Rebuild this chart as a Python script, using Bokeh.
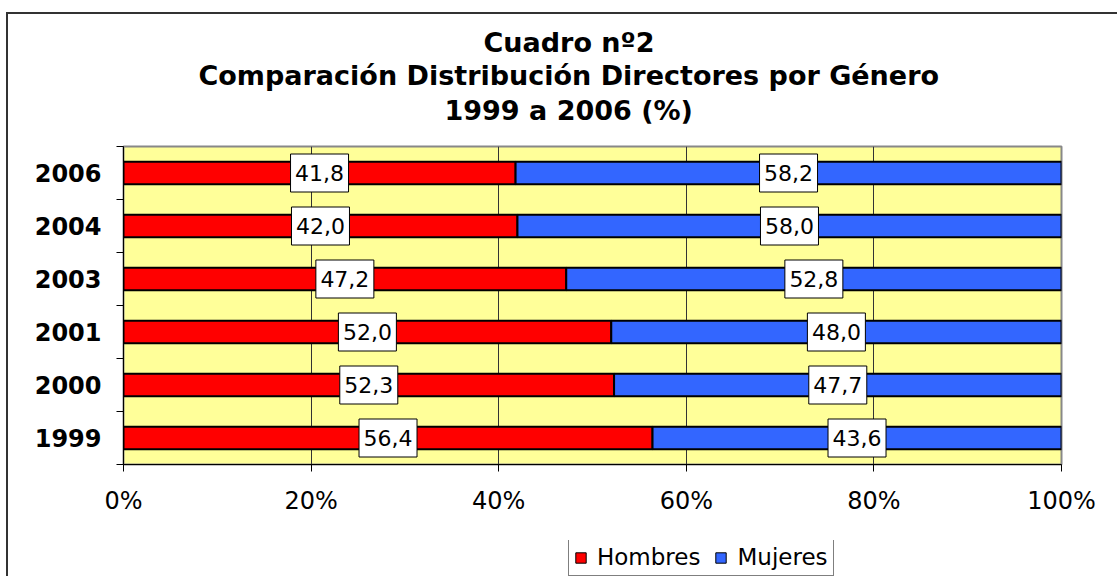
import numpy as np
from bokeh.plotting import figure
from bokeh.layouts import column
from bokeh.models import Range1d, FixedTicker, NumeralTickFormatter, Legend, LegendItem, Title
from bokeh.core.properties import value
from bokeh.embed import file_html
from bokeh.resources import INLINE

years = ["1999", "2000", "2001", "2003", "2004", "2006"]
hombres = [56.4, 52.3, 52.0, 47.2, 42.0, 41.8]
mujeres = [43.6, 47.7, 48.0, 52.8, 58.0, 58.2]
x_ticks = [0, 0.2, 0.4, 0.6, 0.8, 1.0]
title_lines = ["Cuadro nº2", "Comparación Distribución Directores por Género", "1999 a 2006 (%)"]
series_names = ["Hombres", "Mujeres"]

FONT = "DejaVu Sans"
RED = "#FF0000"
BLUE = "#3366FF"

h = np.array(hombres) / 100.0
m = np.array(mujeres) / 100.0
ypos = np.arange(len(years)) + 0.5

p = figure(frame_width=938, frame_height=318,
           x_range=Range1d(0, 1), y_range=Range1d(0, len(years)),
           output_backend="svg", toolbar_location=None, title=None,
           min_border_left=115, min_border_right=56,
           min_border_top=132, min_border_bottom=76,
           background_fill_color="#FFFF99", border_fill_color="white",
           outline_line_color="#888888", outline_line_width=2)

# spacer between frame and the title block
p.add_layout(Title(text=" ", text_font_size="14px", standoff=0, text_line_height=1.0), "above")
# titles: bottom line first, stacking upward
title_offsets = [321, 75, 360]
title_standoffs = [5, 0, 0]
for txt, off, so in zip(reversed(title_lines), title_offsets, title_standoffs):
    p.add_layout(Title(text=txt, align="left", offset=off, standoff=so,
                       text_font_size="27px", text_font=FONT, text_font_style="bold",
                       text_color="black", text_line_height=1.0), "above")

# grid
p.xgrid.ticker = FixedTicker(ticks=[0.2, 0.4, 0.6, 0.8])
p.xgrid.grid_line_color = "#333333"
p.xgrid.grid_line_width = 1
p.ygrid.grid_line_color = None

p.hbar(y=ypos, left=0, right=h, height=0.42, fill_color=RED,
       line_color="black", line_width=2)
p.hbar(y=ypos, left=h, right=h + m, height=0.42, fill_color=BLUE,
       line_color="black", line_width=2)

def fmt(v):
    return f"{v:.1f}".replace(".", ",")

for centers, vals in ((h / 2, hombres), (h + m / 2, mujeres)):
    p.rect(x=centers, y=ypos, width=58, height=38, width_units="screen",
           height_units="screen", fill_color="white", line_color="black", line_width=1)
    p.text(x=centers, y=ypos, text=[fmt(v) for v in vals], text_align="center",
           text_baseline="middle", text_font=value(FONT), text_font_size="22px",
           text_color="black")

# x axis
xa = p.xaxis[0]
xa.ticker = FixedTicker(ticks=x_ticks)
xa.formatter = NumeralTickFormatter(format="0%")
xa.major_tick_in = 0
xa.major_tick_out = 7
xa.minor_tick_line_color = None
xa.axis_line_color = "black"
xa.major_tick_line_color = "black"
xa.major_label_text_font = FONT
xa.major_label_text_font_size = "24px"
xa.major_label_text_color = "black"
xa.major_label_standoff = 15

# y axis
ya = p.yaxis[0]
ya.ticker = FixedTicker(ticks=list(ypos), minor_ticks=list(range(len(years) + 1)))
ya.major_label_overrides = {float(y): yr for y, yr in zip(ypos, years)}
ya.major_tick_in = 0
ya.major_tick_out = 0
ya.minor_tick_in = 0
ya.minor_tick_out = 7
ya.minor_tick_line_color = "black"
ya.axis_line_color = "black"
ya.major_label_text_font = FONT
ya.major_label_text_font_style = "bold"
ya.major_label_text_font_size = "24px"
ya.major_label_text_color = "black"
ya.major_label_standoff = 15

# legend strip: a small figure holding the legend (its bars lie outside its view)
p2 = figure(width=1109, height=36, x_range=Range1d(0, 1), y_range=Range1d(100, 101),
            output_backend="svg", toolbar_location=None, title=None,
            x_axis_type=None, y_axis_type=None,
            min_border_left=0, min_border_right=0, min_border_top=0, min_border_bottom=0,
            background_fill_color="white", border_fill_color="white",
            outline_line_color=None)
l1 = p2.hbar(y=ypos, left=0, right=h, height=0.42, fill_color=RED,
             line_color="black", line_width=1)
l2 = p2.hbar(y=ypos, left=h, right=h + m, height=0.42, fill_color=BLUE,
             line_color="black", line_width=1)

legend = Legend(items=[LegendItem(label=series_names[0], renderers=[l1]),
                       LegendItem(label=series_names[1], renderers=[l2])],
                orientation="horizontal", location=(445, 0),
                glyph_width=13, glyph_height=13, label_text_font=FONT,
                label_text_font_size="23px", label_text_color="black",
                border_line_color="black", border_line_width=1,
                background_fill_color="white", background_fill_alpha=1,
                padding=5, spacing=14, label_standoff=10, margin=0)
p2.add_layout(legend, "center")

layout = column(p, p2, spacing=0)
layout.styles = {"border-left": "2px solid #333333", "border-top": "2px solid #333333",
                 "margin-left": "6px", "margin-top": "12px"}

open("out.html", "w").write(file_html(layout, INLINE))
